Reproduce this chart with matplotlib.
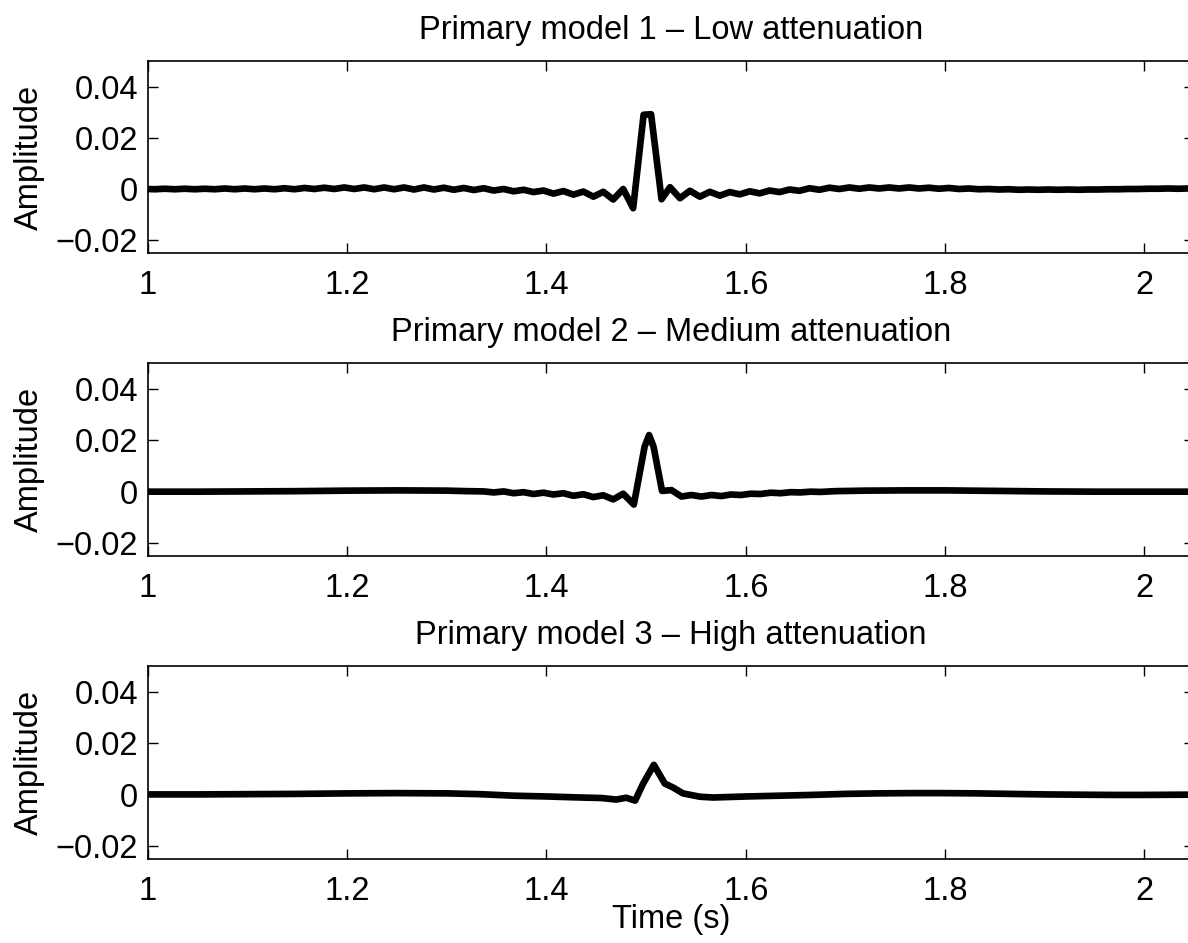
import matplotlib
matplotlib.use("Agg")
import matplotlib.pyplot as plt

plt.rcParams['font.family'] = ['Liberation Sans', 'DejaVu Sans']

# ---------------- data ----------------
titles = ["Primary model 1 \u2013 Low attenuation",
          "Primary model 2 \u2013 Medium attenuation",
          "Primary model 3 \u2013 High attenuation"]

time_low = [1.000, 1.007, 1.017, 1.027, 1.037, 1.047, 1.057, 1.067, 1.077, 1.087,
            1.097, 1.107, 1.117, 1.127, 1.137, 1.147, 1.157, 1.167, 1.177, 1.187,
            1.197, 1.207, 1.217, 1.227, 1.237, 1.247, 1.257, 1.267, 1.277, 1.287,
            1.297, 1.307, 1.317, 1.327, 1.337, 1.347, 1.357, 1.367, 1.377, 1.387,
            1.397, 1.407, 1.417, 1.427, 1.437, 1.447, 1.457, 1.467, 1.477, 1.487,
            1.4975, 1.505, 1.5155, 1.524, 1.534, 1.544, 1.554, 1.564, 1.574, 1.584,
            1.594, 1.604, 1.614, 1.624, 1.634, 1.644, 1.654, 1.664, 1.674, 1.684,
            1.694, 1.704, 1.714, 1.724, 1.734, 1.744, 1.754, 1.764, 1.774, 1.784,
            1.794, 1.804, 1.814, 1.824, 1.834, 1.844, 1.854, 1.864, 1.874, 1.884,
            1.894, 1.904, 1.914, 1.924, 1.934, 1.944, 1.954, 1.964, 1.974, 1.984,
            1.994, 2.004, 2.014, 2.024, 2.034, 2.044]
amp_low = [0.0000, -0.0001, 0.0001, -0.0001, 0.0001, -0.0001, 0.0001, -0.0001, 0.0002, -0.0001,
           0.0002, -0.0001, 0.0002, -0.0001, 0.0003, -0.0001, 0.0004, 0.0000, 0.0005, 0.0000,
           0.0006, 0.0000, 0.0006, -0.0001, 0.0006, -0.0001, 0.0006, -0.0002, 0.0006, -0.0002,
           0.0005, -0.0003, 0.0004, -0.0004, 0.0003, -0.0006, 0.0000, -0.0009, -0.0003, -0.0012,
           -0.0006, -0.0018, -0.0008, -0.0022, -0.0010, -0.0030, -0.0011, -0.0041, 0.0000, -0.0075,
           0.0290, 0.0292, -0.0040, 0.0007, -0.0036, -0.0007, -0.0030, -0.0011, -0.0026, -0.0012,
           -0.0021, -0.0009, -0.0017, -0.0006, -0.0012, -0.0002, -0.0007, 0.0003, -0.0003, 0.0005,
           0.0000, 0.0006, 0.0001, 0.0006, 0.0002, 0.0006, 0.0002, 0.0006, 0.0002, 0.0005,
           0.0001, 0.0004, 0.0000, 0.0002, -0.0001, 0.0000, -0.0002, -0.0001, -0.0003, -0.0002,
           -0.0003, -0.0002, -0.0003, -0.0002, -0.0003, -0.0002, -0.0002, -0.0001, -0.0001, 0.0000,
           0.0000, 0.0001, 0.0001, 0.0002, 0.0001, 0.0002]

time_med = [1.000, 1.050, 1.100, 1.150, 1.200, 1.250, 1.300, 1.320, 1.337, 1.347,
            1.357, 1.367, 1.377, 1.387, 1.397, 1.407, 1.417, 1.427, 1.437, 1.447,
            1.457, 1.467, 1.477, 1.4877, 1.4985, 1.503, 1.5075, 1.516, 1.5255, 1.5355,
            1.5455, 1.5556, 1.5656, 1.5756, 1.585, 1.595, 1.605, 1.615, 1.625, 1.635,
            1.645, 1.655, 1.665, 1.675, 1.690, 1.720, 1.760, 1.800, 1.850, 1.900,
            1.950, 2.000, 2.044]
amp_med = [0.0000, 0.0000, 0.0001, 0.0002, 0.0004, 0.0005, 0.0004, 0.0002, 0.0001, -0.0003,
           0.0001, -0.0006, -0.0002, -0.0009, -0.0004, -0.0011, -0.0006, -0.0016, -0.0010, -0.0021,
           -0.0014, -0.0030, -0.0008, -0.0050, 0.0175, 0.0220, 0.0175, 0.0003, 0.0006, -0.0019,
           -0.0013, -0.0019, -0.0013, -0.0017, -0.0011, -0.0013, -0.0008, -0.0009, -0.0004, -0.0006,
           -0.0002, -0.0003, 0.0000, -0.0001, 0.0002, 0.0004, 0.0005, 0.0005, 0.0003, 0.0001,
           0.0000, 0.0000, 0.0000]

time_high = [1.000, 1.050, 1.100, 1.150, 1.200, 1.250, 1.300, 1.333, 1.367, 1.400,
             1.434, 1.455, 1.470, 1.480, 1.489, 1.497, 1.5078, 1.5188, 1.527, 1.537,
             1.554, 1.567, 1.584, 1.601, 1.634, 1.666, 1.700, 1.732, 1.766, 1.799,
             1.832, 1.865, 1.900, 1.932, 1.966, 2.000, 2.044]
amp_high = [0.0001, 0.0001, 0.0002, 0.0003, 0.0005, 0.0006, 0.0005, 0.0002, -0.0004, -0.0007,
            -0.0011, -0.0013, -0.0019, -0.0012, -0.0023, 0.0043, 0.0116, 0.0043, 0.0028, 0.0005,
            -0.0008, -0.0011, -0.0009, -0.0007, -0.0004, -0.0001, 0.0003, 0.0005, 0.0006, 0.0006,
            0.0005, 0.0003, 0.0001, 0.0000, -0.0001, -0.0001, 0.0000]

x_ticks = [1.0, 1.2, 1.4, 1.6, 1.8, 2.0]
x_ticklabels = ["1", "1.2", "1.4", "1.6", "1.8", "2"]
y_ticks = [-0.02, 0.0, 0.02, 0.04]
y_ticklabels = ["\u22120.02", "0", "0.02", "0.04"]

series = [(time_low, amp_low), (time_med, amp_med), (time_high, amp_high)]

# ---------------- figure ----------------
W, H = 1188, 943
fig = plt.figure(figsize=(W / 100, H / 100), dpi=100)

left_px, right_px = 148, 1194
axes_px = [(61, 253), (363, 556), (666, 859)]  # top, bottom in pixels
FS = 23.5

for i, ((tp, bt), (tt, aa)) in enumerate(zip(axes_px, series)):
    ax = fig.add_axes([left_px / W, (H - bt) / H, (right_px - left_px) / W, (bt - tp) / H])
    ax.plot(tt, aa, color='black', linewidth=4.8, solid_joinstyle='round')
    ax.set_xlim(1.0, 2.05)
    ax.set_ylim(-0.025, 0.05)
    ax.set_xticks(x_ticks)
    ax.set_xticklabels(x_ticklabels)
    ax.set_yticks(y_ticks)
    ax.set_yticklabels(y_ticklabels)
    ax.tick_params(direction='in', length=7, width=1.0, top=True, right=True,
                   labelsize=FS, colors='black')
    ax.tick_params(axis='x', pad=12)
    ax.tick_params(axis='y', pad=7)
    for sp in ax.spines.values():
        sp.set_linewidth(1.2)
    ax.set_title(titles[i], fontsize=FS, pad=16)
    ax.set_ylabel("Amplitude", fontsize=FS, labelpad=8)
    if i == 2:
        ax.set_xlabel("Time (s)", fontsize=FS, labelpad=-2)

fig.savefig("out.png", dpi=100)
